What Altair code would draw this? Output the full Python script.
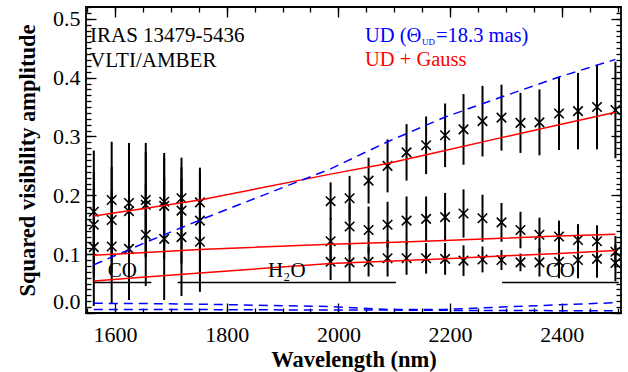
import altair as alt
import pandas as pd

# ---------------- data ----------------
wavelength = [1562, 1594, 1625, 1655, 1688, 1719, 1752,
              1986, 2020, 2054, 2088, 2122, 2157, 2191, 2224, 2258, 2292,
              2326, 2360, 2395, 2429, 2463, 2496]

v2_short = [0.172, 0.192, 0.187, 0.192, 0.189, 0.195, 0.188,
            0.190, 0.195, 0.225, 0.250, 0.273, 0.285, 0.302, 0.312, 0.326, 0.332,
            0.323, 0.324, 0.339, 0.343, 0.350, 0.345]
err_short = [0.104, 0.099, 0.102, 0.097, 0.075, 0.053, 0.050,
             0.032, 0.038, 0.039, 0.045, 0.048, 0.049, 0.054, 0.060, 0.060, 0.056,
             0.051, 0.056, 0.062, 0.065, 0.072, 0.082]

v2_mid = [0.150, 0.158, 0.173, 0.184, 0.182, 0.174, 0.157,
          0.122, 0.147, 0.141, 0.150, 0.157, 0.160, 0.163, 0.169, 0.161, 0.154,
          0.141, 0.133, 0.130, 0.124, 0.122, 0.104]
err_mid = [0.090, 0.090, 0.090, 0.090, 0.090, 0.090, 0.090,
           0.040, 0.040, 0.040, 0.039, 0.041, 0.038, 0.041, 0.041, 0.040, 0.033,
           0.031, 0.029, 0.027, 0.027, 0.027, 0.027]

v2_long = [0.112, 0.113, 0.109, 0.133, 0.126, 0.129, 0.121,
           0.087, 0.086, 0.087, 0.093, 0.093, 0.093, 0.092, 0.089, 0.091, 0.090,
           0.086, 0.086, 0.087, 0.090, 0.092, 0.085]
err_long = [0.100, 0.096, 0.087, 0.087, 0.104, 0.100, 0.085,
            0.031, 0.033, 0.025, 0.031, 0.028, 0.026, 0.027, 0.026, 0.022, 0.017,
            0.015, 0.024, 0.028, 0.031, 0.032, 0.031]

model_wavelength = [1562, 1655, 1752, 1986, 2088, 2191, 2292, 2395, 2496]
gauss_short = [0.165, 0.178, 0.192, 0.236, 0.254, 0.276, 0.298, 0.320, 0.341]
gauss_mid = [0.098, 0.103, 0.108, 0.117, 0.120, 0.123, 0.127, 0.131, 0.134]
gauss_long = [0.0545, 0.061, 0.068, 0.084, 0.088, 0.092, 0.097, 0.101, 0.106]
ud_short = [0.082, 0.120, 0.158, 0.245, 0.291, 0.333, 0.367, 0.401, 0.431]
ud_mid = [0.0165, 0.016, 0.015, 0.011, 0.006, 0.006, 0.010, 0.014, 0.0175]
ud_long = [0.006, 0.006, 0.0058, 0.005, 0.005, 0.0045, 0.0042, 0.004, 0.0038]

band_names = ["CO", "H\u2082O", "CO"]
band_start = [1561, 1712, 2293]
band_end = [1665, 2103, 2502]
band_level = [0.052, 0.052, 0.052]

x_major = [1600, 1800, 2000, 2200, 2400]
x_minor = list(range(1550, 2501, 50))
y_major = [0.0, 0.1, 0.2, 0.3, 0.4, 0.5]
y_minor = [round(i * 0.01, 2) for i in range(0, 53)]

# ---------------- tables ----------------
obs = pd.concat([
    pd.DataFrame({"wl": wavelength, "v2": v2_short, "err": err_short, "bl": "short"}),
    pd.DataFrame({"wl": wavelength, "v2": v2_mid, "err": err_mid, "bl": "mid"}),
    pd.DataFrame({"wl": wavelength, "v2": v2_long, "err": err_long, "bl": "long"}),
])
obs["lo"] = obs["v2"] - obs["err"]
obs["hi"] = obs["v2"] + obs["err"]

gauss = pd.concat([
    pd.DataFrame({"wl": model_wavelength, "v2": gauss_short, "bl": "short"}),
    pd.DataFrame({"wl": model_wavelength, "v2": gauss_mid, "bl": "mid"}),
    pd.DataFrame({"wl": model_wavelength, "v2": gauss_long, "bl": "long"}),
])
ud = pd.concat([
    pd.DataFrame({"wl": model_wavelength, "v2": ud_short, "bl": "short"}),
    pd.DataFrame({"wl": model_wavelength, "v2": ud_mid, "bl": "mid"}),
    pd.DataFrame({"wl": model_wavelength, "v2": ud_long, "bl": "long"}),
])
bands = pd.DataFrame({"name": band_names, "start": band_start, "end": band_end,
                      "level": band_level})
bands["mid"] = (bands["start"] + bands["end"]) / 2

W, H = 535, 306
FONT = "Liberation Serif"
xs = alt.Scale(domain=[1548, 2506], nice=False, zero=False)
ys = alt.Scale(domain=[0, 0.52], nice=False, zero=False)


def tick_axis(orient, values, size, offset):
    return alt.Axis(orient=orient, values=values, tickSize=size, offset=offset,
                    labels=False, domain=False, grid=False, tickColor="black",
                    tickWidth=1.3, title=None)


# error bars (carry the labelled axes)
bars = alt.Chart(obs).mark_rule(color="black", strokeWidth=2).encode(
    x=alt.X("wl:Q", scale=xs, axis=alt.Axis(
        orient="bottom", values=x_major, format="d", tickSize=0, labelFont=FONT,
        labelFontSize=22, labelColor="black", labelPadding=11, domain=False,
        grid=False, title="Wavelength (nm)", titleFont=FONT, titleFontSize=22.5,
        titleFontWeight="bold", titleColor="black", titlePadding=3)),
    y=alt.Y("lo:Q", scale=ys, axis=alt.Axis(
        orient="left", values=y_major, format=".1f", tickSize=0, labelFont=FONT,
        labelFontSize=22, labelColor="black", labelPadding=6, labelFlush=True,
        domain=False, grid=False, title="Squared visibility amplitude",
        titleFont=FONT, titleFontSize=22.5, titleFontWeight="bold",
        titleColor="black", titlePadding=13)),
    y2="hi:Q",
)

crosses = alt.Chart(obs).mark_point(
    shape="M-1,-1L1,1M-1,1L1,-1", size=90, filled=False, color="black",
    strokeWidth=1.6, opacity=1,
).encode(
    x=alt.X("wl:Q", scale=xs, axis=tick_axis("top", x_major, 10, -H)),
    y=alt.Y("v2:Q", scale=ys, axis=tick_axis("right", y_major, 10, -W)),
)

red = alt.Chart(gauss).mark_line(color="#ff0000", strokeWidth=1.5).encode(
    x=alt.X("wl:Q", scale=xs, axis=tick_axis("top", x_minor, 5, -H)),
    y=alt.Y("v2:Q", scale=ys, axis=tick_axis("right", y_minor, 5, -W)),
    detail="bl:N",
)

blue = alt.Chart(ud).mark_line(color="#0000ff", strokeWidth=1.5,
                               strokeDash=[9, 6]).encode(
    x=alt.X("wl:Q", scale=xs, axis=tick_axis("bottom", x_major, 10, -H)),
    y=alt.Y("v2:Q", scale=ys, axis=tick_axis("left", y_major, 10, -W)),
    detail="bl:N",
)

band_rules = alt.Chart(bands).mark_rule(color="black", strokeWidth=1.5).encode(
    x=alt.X("start:Q", scale=xs, axis=tick_axis("bottom", x_minor, 5, -H)),
    x2="end:Q",
    y=alt.Y("level:Q", scale=ys, axis=tick_axis("left", y_minor, 5, -W)),
)

band_text = alt.Chart(bands).mark_text(
    font=FONT, fontSize=21, color="black", baseline="alphabetic", dy=-5,
).encode(
    x=alt.X("mid:Q", scale=xs, axis=None),
    y=alt.Y("level:Q", scale=ys, axis=None),
    text="name:N",
)


def label(txt, x, y, color="black", size=21):
    return alt.Chart(pd.DataFrame({"t": [txt]})).mark_text(
        font=FONT, fontSize=size, color=color, align="left", baseline="alphabetic",
    ).encode(text="t:N", x=alt.value(x), y=alt.value(y))


texts = [
    label("IRAS 13479-5436", 4, 34.5),
    label("VLTI/AMBER", 4, 59.5),
    label("UD (\u0398", 279, 34.5, "#0000ff", 20.5),
    label("UD", 336, 37.5, "#0000ff", 9),
    label("=18.3 mas)", 350, 34.5, "#0000ff", 20.5),
    label("UD + Gauss", 279, 58.5, "#ff0000", 20.5),
]

chart = alt.layer(bars, crosses, red, blue, band_rules, band_text, *texts).resolve_axis(
    x="independent", y="independent"
).properties(
    width=W, height=H, autosize=alt.AutoSizeParams(type="none"),
    padding={"left": 86, "top": 7, "right": 7, "bottom": 59},
    background="white",
).configure_view(stroke="black", strokeWidth=1.8)

chart.save("out.html", embed_options={"renderer": "svg", "actions": False})
